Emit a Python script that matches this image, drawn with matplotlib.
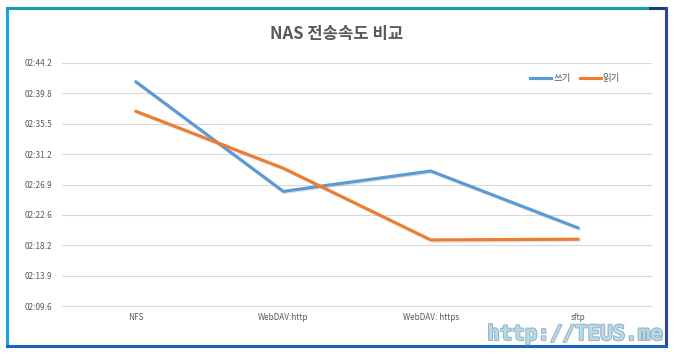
import matplotlib
matplotlib.use("Agg")
import matplotlib.pyplot as plt
import matplotlib.patheffects as pe
from matplotlib.lines import Line2D

plt.rcParams['font.family'] = ['Noto Sans CJK KR', 'DejaVu Sans']

categories = ["NFS", "WebDAV:http", "WebDAV: https", "sftp"]
write_sec = [161.5, 145.9, 148.8, 140.7]   # 쓰기 (seconds)
read_sec = [157.3, 149.2, 139.0, 139.1]    # 읽기 (seconds)
tick_vals = [129.6, 133.92, 138.24, 142.56, 146.88, 151.2, 155.52, 159.84, 164.16]
tick_labels = ["02:09.6", "02:13.9", "02:18.2", "02:22.6", "02:26.9",
               "02:31.2", "02:35.5", "02:39.8", "02:44.2"]
series_names = ["쓰기", "읽기"]
title = "NAS 전송속도 비교"

fig = plt.figure(figsize=(6.74, 3.56), dpi=100)
ax = fig.add_axes([62/674, 1-306.5/356, (652-62)/674, (306.5-62.5)/356])

x = list(range(len(categories)))
shadow = [pe.SimpleLineShadow(offset=(0.8, -0.8), alpha=0.25, shadow_color='gray'), pe.Normal()]
ax.plot(x, write_sec, color='#5B9BD5', lw=2.25, solid_capstyle='round', path_effects=shadow, zorder=3)
ax.plot(x, read_sec, color='#ED7D31', lw=2.25, solid_capstyle='round', path_effects=shadow, zorder=3)

ax.set_xlim(-0.5, 3.5)
ax.set_ylim(tick_vals[0] - 0.07, tick_vals[-1] + 0.07)
ax.set_yticks(tick_vals)
ax.set_yticklabels(tick_labels)
ax.set_xticks(x)
ax.set_xticklabels(categories)
ax.tick_params(axis='both', length=0, labelsize=5.9, labelcolor='#595959')
ax.tick_params(axis='y', pad=7)
ax.tick_params(axis='x', pad=5)
for s in ax.spines.values():
    s.set_visible(False)
ax.grid(axis='y', color='#d9d9d9', lw=0.8)
ax.set_axisbelow(True)

fig.text(337/674, 1-34/356, title, ha='center', va='center', fontsize=12,
         fontweight='bold', color='#595959')

handles = [Line2D([], [], color='#5B9BD5', lw=2.25), Line2D([], [], color='#ED7D31', lw=2.25)]
leg = fig.legend(handles, series_names, loc='center', bbox_to_anchor=(575/674, 1-79/356),
                 ncol=2, frameon=False, fontsize=6.8, handlelength=2.2, handletextpad=0.2,
                 columnspacing=1.0)
for t in leg.get_texts():
    t.set_color('#595959')

# frame border
fig.add_artist(Line2D([7/674, 7/674], [1-346/356, 1-8/356], color='#12a5df', lw=2.2, transform=fig.transFigure))
fig.add_artist(Line2D([7/674, 650/674], [1-8/356, 1-8/356], color='#14a0a8', lw=2.2, transform=fig.transFigure))
fig.add_artist(Line2D([650/674, 666/674], [1-8/356, 1-8/356], color='#1d3a7a', lw=2.2, transform=fig.transFigure))
fig.add_artist(Line2D([666/674, 666/674], [1-346/356, 1-8/356], color='#2f43a0', lw=2.2, transform=fig.transFigure))
fig.add_artist(Line2D([7/674, 666/674], [1-346/356, 1-346/356], color='#1565c0', lw=2.2, transform=fig.transFigure))

# watermark
fig.text(664/674, 1-334/356, "http://TEUS.me", ha='right', va='center', fontsize=15,
         fontweight='bold', family='DejaVu Sans Mono', color='#b5dbe8',
         path_effects=[pe.withStroke(linewidth=1.5, foreground='#9bb3c4')])

fig.savefig("out.png", dpi=100)
